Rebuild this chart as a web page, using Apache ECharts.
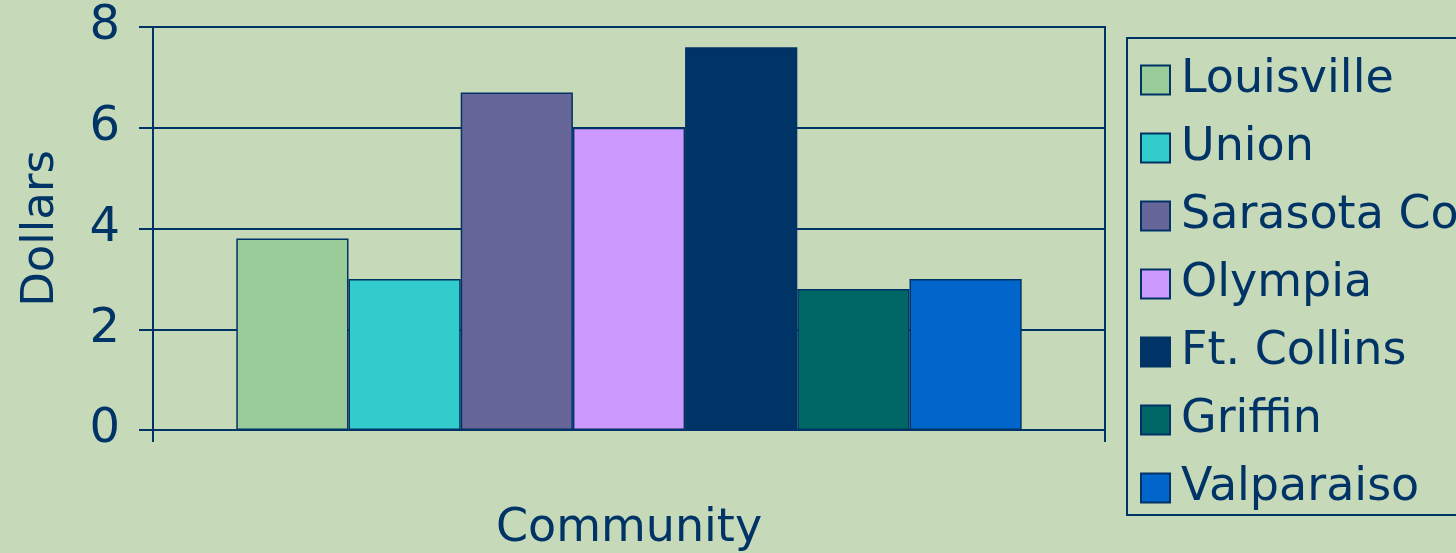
<!DOCTYPE html>
<html>
    <head>
        <meta charset="UTF-8">
        <title>Dollars by Community</title>
        <script type="text/javascript" src="https://cdn.jsdelivr.net/npm/echarts@6/dist/echarts.min.js"></script>
    </head>
    <body style="margin: 0; background: #c6d9b9;">
        <div id="container" style="width: 1456px; height: 553px;"></div>
    </body>
    <script type="text/javascript">
        var dom = document.getElementById("container");
        var myChart = echarts.init(dom);

        // data
        var communities = ['Louisville', 'Union', 'Sarasota Co.', 'Olympia', 'Ft. Collins', 'Griffin', 'Valparaiso'];
        var dollars = [3.8, 3.0, 6.7, 6.0, 7.6, 2.8, 3.0];
        var barColors = ['#99cc99', '#33cccc', '#666699', '#cc99ff', '#003366', '#006666', '#0066cc'];
        var categories = [''];

        var ink = '#003366';
        var font = 'DejaVu Sans';

        var series = [];
        for (var i = 0; i < communities.length; ++i) {
            series.push({
                name: communities[i],
                type: 'bar',
                data: [dollars[i]],
                barGap: '0%',
                barCategoryGap: '17.5%',
                itemStyle: {
                    color: barColors[i],
                    borderColor: ink,
                    borderWidth: 1.5
                }
            });
        }

        var option = {
            animation: false,
            backgroundColor: '#c6d9b9',
            textStyle: { fontFamily: font, color: ink },
            grid: {
                left: 153,
                right: 351,
                top: 27,
                bottom: 123,
                containLabel: false,
                outerBoundsMode: 'none',
                show: true,
                borderColor: ink,
                borderWidth: 2
            },
            legend: {
                orient: 'vertical',
                left: 1127,
                top: 38,
                padding: [19, 60, 4, 13],
                icon: 'rect',
                itemWidth: 29,
                itemHeight: 29,
                itemGap: 22,
                borderColor: ink,
                borderWidth: 2,
                textStyle: {
                    fontFamily: font,
                    fontSize: 46,
                    lineHeight: 46,
                    color: ink,
                    padding: [0, 0, 0, 6]
                },
                data: communities
            },
            xAxis: {
                type: 'category',
                data: categories,
                name: 'Community',
                nameLocation: 'middle',
                nameGap: 76,
                nameTextStyle: { fontFamily: font, fontSize: 46, color: ink },
                axisLine: { lineStyle: { color: ink, width: 2 } },
                axisTick: { show: true, length: 12, lineStyle: { color: ink, width: 2 } },
                axisLabel: { show: false }
            },
            yAxis: {
                type: 'value',
                min: 0,
                max: 8,
                interval: 2,
                name: 'Dollars',
                nameLocation: 'middle',
                nameGap: 89,
                nameTextStyle: { fontFamily: font, fontSize: 45, color: ink },
                axisLine: { show: true, lineStyle: { color: ink, width: 2 } },
                axisTick: { show: true, length: 14, lineStyle: { color: ink, width: 2 } },
                axisLabel: { fontFamily: font, fontSize: 48, color: ink, margin: 33 },
                splitLine: { lineStyle: { color: ink, width: 2 } }
            },
            series: series
        };

        myChart.setOption(option);
    </script>
</html>
